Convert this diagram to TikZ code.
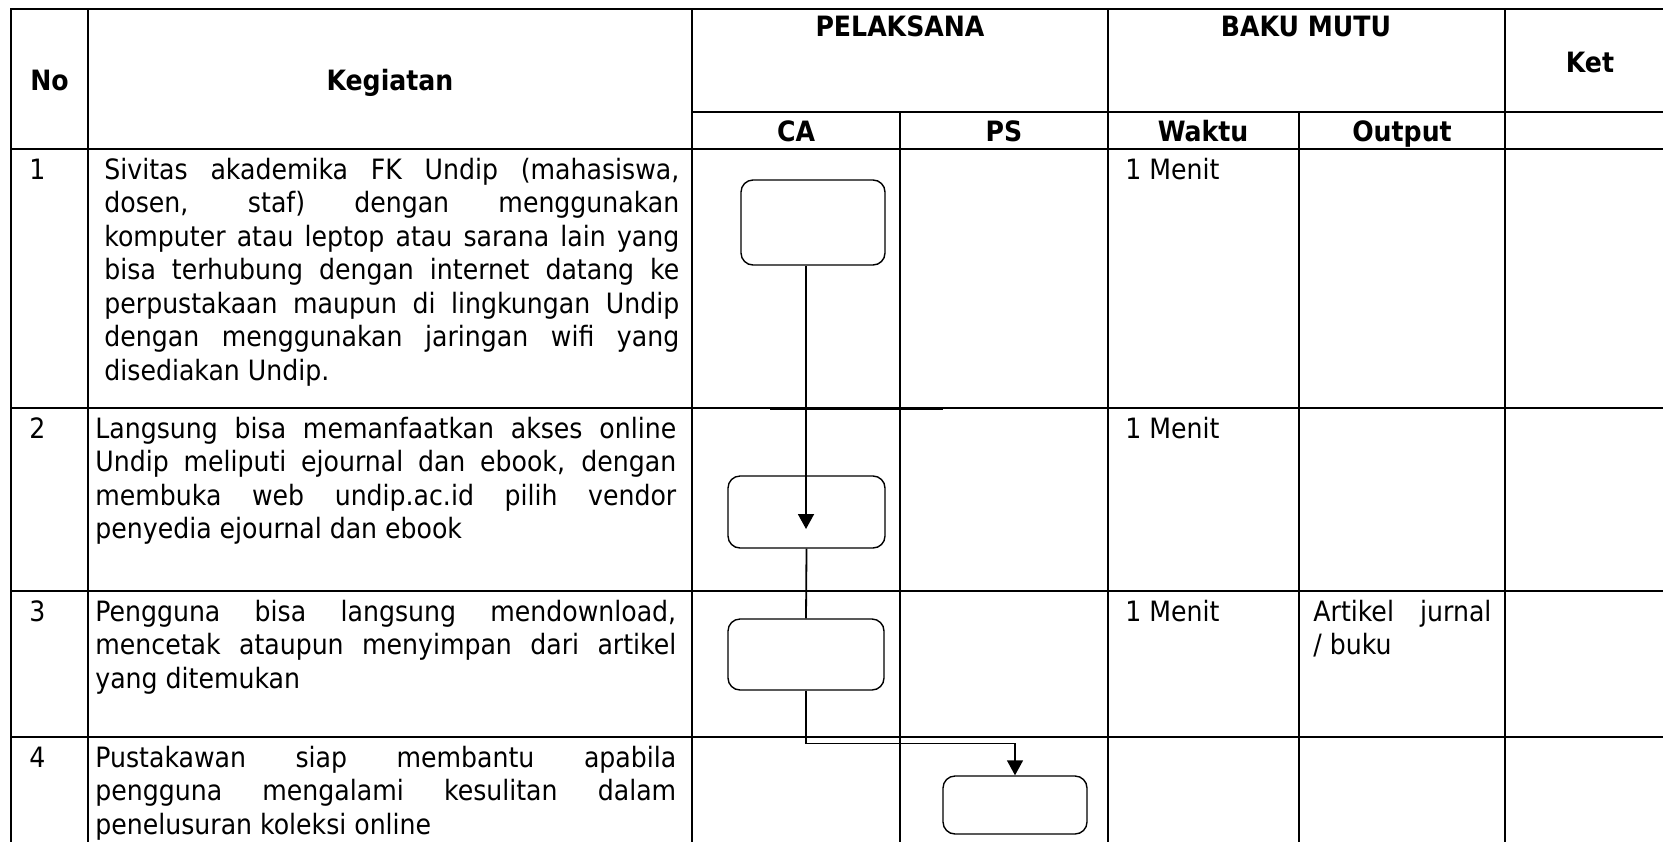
\documentclass[tikz,border=0pt]{standalone}
\usepackage{fontspec}
\setmainfont{DejaVu Sans Condensed}
\usetikzlibrary{arrows.meta}

\tikzset{
  grid/.style={line width=1pt, line cap=rect},
  flowbox/.style={draw, rounded corners=6pt, line width=0.7pt, inner sep=0pt},
  flow/.style={line width=0.9pt, -{Triangle[width=8pt,length=7.5pt]}},
  cell/.style={anchor=base west, inner sep=0pt, align=justify},
  head/.style={anchor=base, inner sep=0pt, font=\bfseries\fontsize{14pt}{16.75pt}\selectfont},
}

\begin{document}
\begin{tikzpicture}[x=0.5pt, y=-0.5pt,
    every node/.style={font=\fontsize{14pt}{16.75pt}\selectfont}]
  \useasboundingbox (0,0) rectangle (1663,841);

  % table lines
  \foreach \y in {9,149,408,591,737}
    \draw[grid] (11,\y) -- (1663,\y);
  \draw[grid] (692,112) -- (1663,112);
  \foreach \x in {11,88,692,1108,1505}
    \draw[grid] (\x,9) -- (\x,841);
  \foreach \x in {900,1299}
    \draw[grid] (\x,112) -- (\x,841);
  \draw[line width=1.4pt] (770,409) -- (943,409);

  % header
  \node[head, anchor=base west] (no) at (30,90) {No};
  \node[head] (kegiatan) at (390,90) {Kegiatan};
  \node[head] (pelaksana) at (900,36) {PELAKSANA};
  \node[head] (bakumutu) at (1306,36) {BAKU MUTU};
  \node[head] (ket) at (1590,72) {Ket};
  \node[head] (ca) at (796,141) {CA};
  \node[head] (ps) at (1004,141) {PS};
  \node[head] (waktu) at (1203,141) {Waktu};
  \node[head] (output) at (1402,141) {Output};

  % rows
  \node[cell] (n1) at (29,179) {1};
  \node[cell, text width=287.5pt] (k1) at (104,179)
    {Sivitas akademika FK Undip (mahasiswa,\linebreak
     dosen, staf) dengan menggunakan\linebreak
     komputer atau leptop atau sarana lain yang\linebreak
     bisa terhubung dengan internet datang ke\linebreak
     perpustakaan maupun di lingkungan Undip\linebreak
     dengan menggunakan jaringan wifi yang\linebreak
     disediakan Undip.};
  \node[cell] (w1) at (1125,179) {1 Menit};

  \node[cell] (n2) at (29,438) {2};
  \node[cell, text width=290.5pt] (k2) at (95,438)
    {Langsung bisa memanfaatkan akses online\linebreak
     Undip meliputi ejournal dan ebook, dengan\linebreak
     membuka web undip.ac.id pilih vendor\linebreak
     penyedia ejournal dan ebook};
  \node[cell] (w2) at (1125,438) {1 Menit};

  \node[cell] (n3) at (29,621) {3};
  \node[cell, text width=290.5pt] (k3) at (95,621)
    {Pengguna bisa langsung mendownload,\linebreak
     mencetak ataupun menyimpan dari artikel\linebreak
     yang ditemukan};
  \node[cell] (w3) at (1125,621) {1 Menit};
  \node[cell, text width=89pt] (o3) at (1313,621) {Artikel jurnal\linebreak / buku};

  \node[cell] (n4) at (29,767) {4};
  \node[cell, text width=290.5pt] (k4) at (95,767)
    {Pustakawan siap membantu apabila\linebreak
     pengguna mengalami kesulitan dalam\linebreak
     penelusuran koleksi online};

  % flow
  \node[flowbox, minimum width=72pt, minimum height=42.5pt] (box1) at (813,222.5) {};
  \node[flowbox, minimum width=78.5pt, minimum height=36pt] (box2) at (806.5,512) {};
  \node[flowbox, minimum width=78pt, minimum height=35.5pt] (box3) at (806,654.5) {};
  \node[flowbox, minimum width=72pt, minimum height=29pt] (box4) at (1015,805) {};
  \coordinate (tip1) at (806,529);

  \draw[flow] (box1.south -| tip1) -- (tip1);
  \draw[line width=0.9pt] (box2.south) -- (box3.north);
  \draw[flow, line width=0.7pt] (box3.south) -- ++(0,53) -| (box4.north);
\end{tikzpicture}
\end{document}
